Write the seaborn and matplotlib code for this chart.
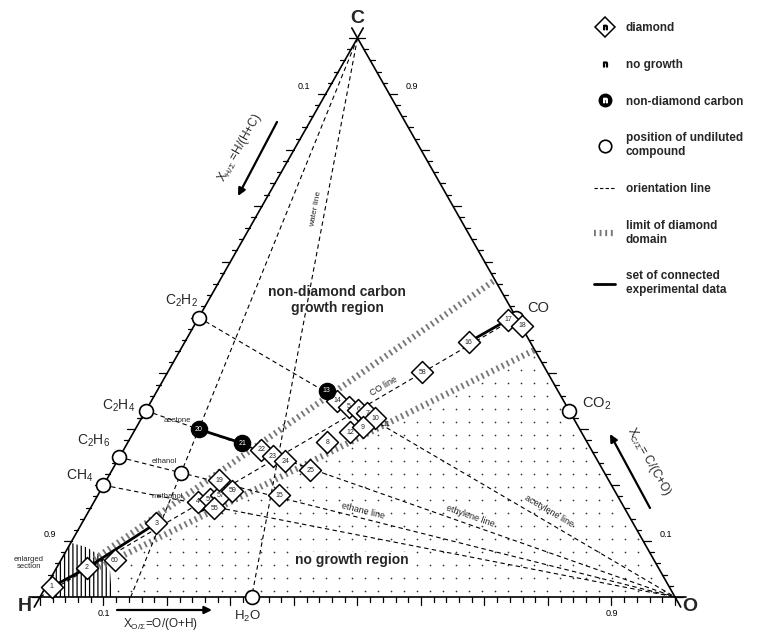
import numpy as np
import pandas as pd
import seaborn as sns
import matplotlib.pyplot as plt
from matplotlib.lines import Line2D
from matplotlib.patches import Polygon

sns.set_theme(style='white')
plt.rcParams['font.family'] = ['Liberation Sans', 'DejaVu Sans']
plt.rcParams['mathtext.fontset'] = 'custom'
plt.rcParams['mathtext.rm'] = 'Liberation Sans'
plt.rcParams['mathtext.it'] = 'Liberation Sans'
plt.rcParams['mathtext.bf'] = 'Liberation Sans:bold'
plt.rcParams['hatch.linewidth'] = 0.9

# atom fractions (H = 1 - C - O)
compounds = ['CH4', 'C2H6', 'C2H4', 'C2H2', 'CO', 'CO2', 'H2O', 'methanol', 'ethanol', 'acetone']
compound_c = [0.2, 0.25, 1/3, 0.5, 0.5, 1/3, 0.0, 1/6, 2/9, 0.3]
compound_o = [0.0, 0.0, 0.0, 0.0, 0.5, 2/3, 1/3, 1/6, 1/9, 0.1]

# diamond growth points
diamond_ids = ['1', '2', '60', '3', '4', '56', '57', '59', '55', '19', '22', '23', '24', '25', '15',
               '14', '5', '6', '7', '10', '12', '9', '8', '58', '16', '17', '18']
diamond_c = [0.018, 0.052, 0.066, 0.132, 0.170, 0.175, 0.182, 0.190, 0.159, 0.209, 0.263, 0.252, 0.243,
             0.227, 0.182, 0.351, 0.340, 0.335, 0.329, 0.320, 0.295, 0.304, 0.277, 0.402, 0.456, 0.496, 0.485]
diamond_o = [0.0095, 0.048, 0.085, 0.117, 0.164, 0.180, 0.194, 0.208, 0.195, 0.178, 0.217, 0.241, 0.265,
             0.312, 0.286, 0.293, 0.316, 0.334, 0.351, 0.368, 0.341, 0.356, 0.314, 0.401, 0.447, 0.489, 0.517]

# non-diamond carbon points
carbon_ids = ['20', '21', '13']
carbon_c = [0.300, 0.275, 0.369]
carbon_o = [0.100, 0.181, 0.267]

# no growth points
nogrowth_ids = ['11']
nogrowth_c = [0.309]
nogrowth_o = [0.391]

# connected experimental sets
connected_sets = [['1', '2', '3'], ['20', '21'], ['16', '17']]

# orientation lines (start -> end compositions)
orient_start_c = [1.0, 1.0, 0.2, 0.25, 1/3, 0.5, 0.0]
orient_start_o = [0.0, 0.0, 0.0, 0.0, 0.0, 0.0, 0.0]
orient_end_c = [0.0, 0.0, 0.0, 0.0, 0.0, 0.0, 0.5]
orient_end_o = [1/3, 1/7, 1.0, 1.0, 1.0, 1.0, 0.5]

# limits of the diamond domain (from near H to the C-O edge)
limit_start_c = [0.068, 0.053]
limit_start_o = [0.052, 0.067]
limit_end_c = [0.567, 0.442]
limit_end_o = [0.433, 0.558]

# enlarged section outline
enlarged_c = [0.0, 0.048, 0.097, 0.089, 0.070, 0.045, 0.0]
enlarged_o = [0.024, 0.0, 0.0, 0.029, 0.065, 0.088, 0.113]

# pixel geometry of the triangle in the figure
SX, SY = 635.0, 559.0
X0, Y0 = 40.0, 597.0


def tern(c, o):
    c = np.asarray(c, float)
    o = np.asarray(o, float)
    return o + c / 2, c


def px(x, y):
    return (x - X0) / SX, (Y0 - y) / SY


fig = plt.figure(figsize=(7.67, 6.33), dpi=100)
ax = fig.add_axes([0, 0, 1, 1])
ax.set_xlim(px(0, 0)[0], px(767, 0)[0])
ax.set_ylim(px(0, 633)[1], px(0, 0)[1])
ax.axis('off')

# no growth region: dot raster below the lower limit line
lx, ly = tern(limit_end_c[1], limit_end_o[1])
gx, gy = np.meshgrid(np.arange(0.0, 1.0, 13 / SX), np.arange(6 / SY, 0.5, 13 / SY))
gx, gy = gx.ravel(), gy.ravel()
keep = (gy < gx * ly / lx - 0.012) & (gy < 2 * (1 - gx) - 0.01) & (gx > 0.112)
ax.scatter(gx[keep], gy[keep], s=1.5, color='#333333', lw=0, zorder=1)

# enlarged section hatching
ex, ey = tern(enlarged_c, enlarged_o)
ax.add_patch(Polygon(np.column_stack([ex, ey]), closed=True, fill=False, hatch='||||',
                     lw=0, edgecolor='black', zorder=1))

# limit of diamond domain
for sc, so, ec, eo in zip(limit_start_c, limit_start_o, limit_end_c, limit_end_o):
    x, y = tern([sc, ec], [so, eo])
    ax.plot(x, y, color='#777777', lw=4.5, ls=(0, (0.3, 0.6)), solid_capstyle='butt', zorder=2)

# orientation lines
for sc, so, ec, eo in zip(orient_start_c, orient_start_o, orient_end_c, orient_end_o):
    x, y = tern([sc, ec], [so, eo])
    ax.plot(x, y, color='black', lw=0.8, ls=(0, (4, 3)), zorder=2)

# triangle with slight overshoot at the corners
corners_c = [0.0, 0.0, 1.0, 0.0]
corners_o = [0.0, 1.0, 0.0, 0.0]
cx, cy = tern(corners_c, corners_o)
for i in range(3):
    a = np.array([cx[i], cy[i]])
    b = np.array([cx[i + 1], cy[i + 1]])
    d = (b - a) * 0.018
    ax.plot([a[0] - d[0], b[0] + d[0]], [a[1] - d[1], b[1] + d[1]], color='black', lw=1.2, zorder=3)

# ticks: bottom (down), left (left), right (right)
fr = np.round(np.arange(0, 1.0001, 0.02), 3)
for f in fr:
    major = abs(f * 10 - round(f * 10)) < 1e-6
    L = 8 if major else 4.5
    bx, by = tern(0.0, f)
    ax.plot([bx, bx], [by, by - L / SY], color='black', lw=0.9, zorder=3)
    lx_, ly_ = tern(1 - f, 0.0)
    ax.plot([lx_, lx_ - L / SX], [ly_, ly_], color='black', lw=0.9, zorder=3)
    rx, ry = tern(f, 1 - f)
    ax.plot([rx, rx + L / SX], [ry, ry], color='black', lw=0.9, zorder=3)

tick_kw = dict(fontsize=6.5, ha='center', va='center', color='black')
for f in [0.1, 0.9]:
    bx, by = tern(0.0, f)
    ax.annotate(f'{f:.1f}', (bx, by), xytext=(0, -12), textcoords='offset points', **tick_kw)
    lx_, ly_ = tern(1 - f, 0.0)
    ax.annotate(f'{f:.1f}', (lx_, ly_), xytext=(-16, 5), textcoords='offset points', **tick_kw)
    rx, ry = tern(f, 1 - f)
    ax.annotate(f'{f:.1f}', (rx, ry), xytext=(16, 5), textcoords='offset points', **tick_kw)

# vertex labels
vx, vy = tern([1.0, 0.0, 0.0], [0.0, 0.0, 1.0])
for name, x, y, off in zip(['C', 'H', 'O'], vx, vy, [(0, 14), (-11, -7), (11, -7)]):
    ax.annotate(name, (x, y), xytext=off, textcoords='offset points', ha='center', va='center',
                fontsize=14, fontweight='bold')

# compounds
comp = pd.DataFrame({'name': compounds, 'c': compound_c, 'o': compound_o})
comp['X'], comp['Y'] = tern(comp['c'], comp['o'])
sns.scatterplot(data=comp, x='X', y='Y', marker='o', s=100, color='white', edgecolor='black',
                linewidth=1.2, ax=ax, zorder=4, legend=False)

comp_text = {'CH4': ('$\\mathregular{CH_4}$', -24, -9, 10), 'C2H6': ('$\\mathregular{C_2H_6}$', -26, -16, 10),
             'C2H4': ('$\\mathregular{C_2H_4}$', -27, -5, 10), 'C2H2': ('$\\mathregular{C_2H_2}$', -17, -17, 10),
             'CO': ('CO', 22, -10, 10.5), 'CO2': ('$\\mathregular{CO_2}$', 27, -7, 10.5),
             'H2O': ('$\\mathregular{H_2O}$', -4, 19, 9.5), 'methanol': ('methanol', -31, -7, 5.5),
             'ethanol': ('ethanol', -17, -11, 5.5), 'acetone': ('acetone', -21, -9, 5.5)}
for _, r in comp.iterrows():
    t, dx, dy, fs = comp_text[r['name']]
    ax.annotate(t, (r['X'], r['Y']), xytext=(dx * 0.72, -dy * 0.72), textcoords='offset points',
                ha='center', va='center', fontsize=fs)

# experimental points
dia = pd.DataFrame({'id': diamond_ids, 'c': diamond_c, 'o': diamond_o})
dia['X'], dia['Y'] = tern(dia['c'], dia['o'])
car = pd.DataFrame({'id': carbon_ids, 'c': carbon_c, 'o': carbon_o})
car['X'], car['Y'] = tern(car['c'], car['o'])
nog = pd.DataFrame({'id': nogrowth_ids, 'c': nogrowth_c, 'o': nogrowth_o})
nog['X'], nog['Y'] = tern(nog['c'], nog['o'])

allpts = pd.concat([dia, car]).set_index('id')
for s in connected_sets:
    sub = allpts.loc[s]
    ax.plot(sub['X'], sub['Y'], color='black', lw=2, zorder=5)

sns.scatterplot(data=dia, x='X', y='Y', marker='D', s=125, color='white', edgecolor='black',
                linewidth=1.1, ax=ax, zorder=6, legend=False)
sns.scatterplot(data=car, x='X', y='Y', marker='o', s=135, color='black', edgecolor='black',
                linewidth=1.0, ax=ax, zorder=6, legend=False)
for _, r in dia.iterrows():
    ax.text(r['X'], r['Y'], r['id'], fontsize=5, ha='center', va='center', zorder=7)
for _, r in car.iterrows():
    ax.text(r['X'], r['Y'], r['id'], fontsize=5, ha='center', va='center', color='white', zorder=7)
for _, r in nog.iterrows():
    ax.text(r['X'], r['Y'], r['id'], fontsize=5.5, ha='center', va='center', zorder=7)

# line labels: (line index, position along line, text, offset px, font size)
line_label_spec = [(0, 0.306, 'water line', -9, 0, 6), (6, 0.722, 'CO line', 0, -9, 6.5),
                   (3, 0.439, 'ethane line', 0, -8, 6.5), (4, 0.613, 'ethylene line', 0, -9, 6.5),
                   (5, 0.736, 'acetylene line', 0, -12, 6.5)]
for i, t, txt, dx, dy, fs in line_label_spec:
    x1, y1 = tern(orient_start_c[i], orient_start_o[i])
    x2, y2 = tern(orient_end_c[i], orient_end_o[i])
    ang = np.degrees(np.arctan2((y2 - y1) * SY, (x2 - x1) * SX))
    if ang > 90:
        ang -= 180
    if ang < -90:
        ang += 180
    ax.annotate(txt, (x1 + t * (x2 - x1), y1 + t * (y2 - y1)), xytext=(dx * 0.72, -dy * 0.72),
                textcoords='offset points', rotation=ang, rotation_mode='anchor',
                ha='center', va='center', fontsize=fs)

# region labels
ax.text(*px(337, 300), 'non-diamond carbon\ngrowth region', ha='center', va='center',
        fontsize=10, fontweight='bold', linespacing=1.15)
ax.text(*px(352, 560), 'no growth region', ha='center', va='center', fontsize=10, fontweight='bold',
        bbox=dict(facecolor='white', edgecolor='none', pad=0.5), zorder=3)
ax.text(*px(29, 563), 'enlarged\nsection', ha='center', va='center', fontsize=5.5, linespacing=1.1)

# axis titles with arrows
arrow_kw = dict(arrowstyle='-|>', lw=1.6, color='black', mutation_scale=11, shrinkA=0, shrinkB=0)
ax.annotate('', xy=px(212, 610), xytext=px(117, 610), arrowprops=arrow_kw)
ax.text(*px(160, 624), '$\\mathregular{X_{O/Σ}}$=O/(O+H)', ha='center', va='center', fontsize=8.5)
ax.annotate('', xy=px(238, 196), xytext=px(277, 122), arrowprops=arrow_kw)
ax.text(*px(240, 148), '$\\mathregular{X_{H/Σ}}$ =H/(H+C)', ha='center', va='center', fontsize=8.5,
        rotation=60.5)
ax.annotate('', xy=px(610, 434), xytext=px(650, 508), arrowprops=arrow_kw)
ax.text(*px(649, 462), '$\\mathregular{X_{C/Σ}}$= C/(C+O)', ha='center', va='center', fontsize=8.5,
        rotation=-60.5)

# legend
handles = [
    (Line2D([], [], ls='none', marker='D', ms=10, mfc='white', mec='black', mew=1.1),
     Line2D([], [], ls='none', marker='$n$', ms=3.2, color='black')),
    Line2D([], [], ls='none', marker='$n$', ms=3.5, color='black'),
    (Line2D([], [], ls='none', marker='o', ms=9, mfc='black', mec='black'),
     Line2D([], [], ls='none', marker='$n$', ms=3.2, color='white')),
    Line2D([], [], ls='none', marker='o', ms=9, mfc='white', mec='black', mew=1.2),
    Line2D([], [], color='black', lw=0.8, ls=(0, (3, 2))),
    Line2D([], [], color='#777777', lw=4.5, ls=(0, (0.3, 0.6))),
    Line2D([], [], color='black', lw=2),
]
labels = ['diamond', 'no growth', 'non-diamond carbon', 'position of undiluted\ncompound',
          'orientation line', 'limit of diamond\ndomain', 'set of connected\nexperimental data']
fig.legend(handles, labels, loc='upper left', bbox_to_anchor=(594 / 767, 1 - 22 / 633), frameon=False,
           prop={'weight': 'bold', 'size': 8.5}, handlelength=1.8, labelspacing=2.1, handletextpad=0.9,
           borderaxespad=0, borderpad=0)

fig.savefig('out.png', dpi=100)
